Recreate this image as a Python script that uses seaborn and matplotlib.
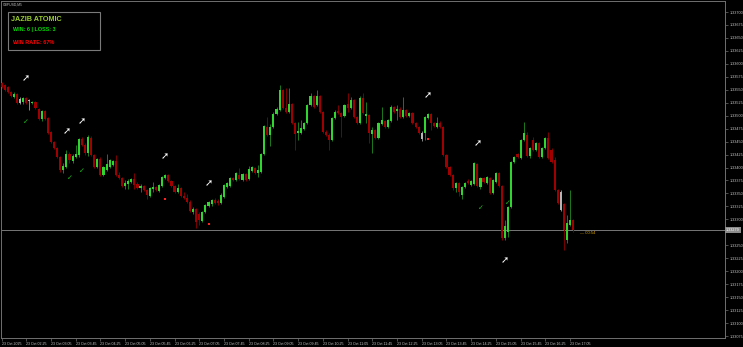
import matplotlib
matplotlib.use("Agg")
import matplotlib.pyplot as plt
from matplotlib.patches import Rectangle
import matplotlib.transforms as mtransforms
import seaborn as sns
import numpy as np
import pandas as pd

SYMBOL_TITLE = "GBPUSD,M5"
PANEL_TITLE = "JAZIB ATOMIC"
PANEL_STATS = "WIN: 6 | LOSS: 3"
PANEL_RATE = "WIN RATE: 67%"
COUNTDOWN = "\u2014 00:54"
CURRENT_PRICE = 1.33279

OPEN = [1.33563, 1.33559, 1.33555, 1.33546, 1.33536, 1.33542, 1.33524, 1.33526, 1.33534, 1.33530,
        1.33524, 1.33526, 1.33513, 1.33494, 1.33509, 1.33495, 1.33468, 1.33449, 1.33438, 1.33420,
        1.33395, 1.33401, 1.33426, 1.33413, 1.33420, 1.33424, 1.33455, 1.33443, 1.33428, 1.33457,
        1.33424, 1.33401, 1.33416, 1.33386, 1.33395, 1.33401, 1.33405, 1.33413, 1.33386, 1.33380,
        1.33364, 1.33368, 1.33372, 1.33378, 1.33368, 1.33360, 1.33364, 1.33357, 1.33345, 1.33359,
        1.33362, 1.33355, 1.33364, 1.33380, 1.33386, 1.33374, 1.33364, 1.33353, 1.33360, 1.33345,
        1.33341, 1.33333, 1.33314, 1.33320, 1.33310, 1.33297, 1.33314, 1.33326, 1.33330, 1.33337,
        1.33335, 1.33332, 1.33343, 1.33362, 1.33364, 1.33380, 1.33376, 1.33386, 1.33376, 1.33387,
        1.33378, 1.33393, 1.33399, 1.33389, 1.33391, 1.33426, 1.33478, 1.33463, 1.33478, 1.33503,
        1.33511, 1.33549, 1.33515, 1.33507, 1.33522, 1.33486, 1.33467, 1.33467, 1.33474, 1.33486,
        1.33521, 1.33538, 1.33521, 1.33538, 1.33507, 1.33468, 1.33463, 1.33453, 1.33495, 1.33509,
        1.33505, 1.33499, 1.33522, 1.33515, 1.33530, 1.33497, 1.33486, 1.33534, 1.33499, 1.33501,
        1.33465, 1.33472, 1.33457, 1.33484, 1.33490, 1.33478, 1.33490, 1.33517, 1.33509, 1.33513,
        1.33497, 1.33511, 1.33499, 1.33505, 1.33486, 1.33478, 1.33467, 1.33467, 1.33495, 1.33503,
        1.33486, 1.33478, 1.33486, 1.33478, 1.33424, 1.33401, 1.33386, 1.33360, 1.33370, 1.33347,
        1.33362, 1.33374, 1.33366, 1.33368, 1.33407, 1.33362, 1.33380, 1.33370, 1.33380, 1.33351,
        1.33372, 1.33389, 1.33364, 1.33264, 1.33276, 1.33324, 1.33411, 1.33426, 1.33418, 1.33453,
        1.33463, 1.33422, 1.33453, 1.33434, 1.33447, 1.33420, 1.33438, 1.33457, 1.33434, 1.33414,
        1.33357, 1.33353, 1.33330, 1.33260, 1.33289, 1.33299]
HIGH = [1.33565, 1.33561, 1.33557, 1.33548, 1.33546, 1.33544, 1.33536, 1.33536, 1.33536, 1.33532,
        1.33528, 1.33528, 1.33515, 1.33511, 1.33511, 1.33497, 1.33470, 1.33451, 1.33440, 1.33422,
        1.33409, 1.33434, 1.33430, 1.33426, 1.33443, 1.33457, 1.33459, 1.33447, 1.33463, 1.33461,
        1.33426, 1.33418, 1.33420, 1.33403, 1.33426, 1.33416, 1.33414, 1.33424, 1.33391, 1.33382,
        1.33376, 1.33378, 1.33380, 1.33389, 1.33372, 1.33368, 1.33366, 1.33359, 1.33362, 1.33372,
        1.33364, 1.33368, 1.33384, 1.33387, 1.33387, 1.33376, 1.33366, 1.33368, 1.33362, 1.33353,
        1.33349, 1.33337, 1.33324, 1.33322, 1.33314, 1.33316, 1.33330, 1.33335, 1.33339, 1.33341,
        1.33339, 1.33351, 1.33368, 1.33372, 1.33382, 1.33382, 1.33391, 1.33399, 1.33389, 1.33389,
        1.33403, 1.33403, 1.33401, 1.33405, 1.33428, 1.33482, 1.33497, 1.33484, 1.33507, 1.33517,
        1.33559, 1.33551, 1.33553, 1.33553, 1.33524, 1.33488, 1.33488, 1.33492, 1.33488, 1.33522,
        1.33544, 1.33540, 1.33549, 1.33540, 1.33509, 1.33472, 1.33467, 1.33497, 1.33511, 1.33521,
        1.33507, 1.33522, 1.33544, 1.33536, 1.33532, 1.33499, 1.33538, 1.33544, 1.33526, 1.33503,
        1.33478, 1.33474, 1.33488, 1.33517, 1.33492, 1.33494, 1.33521, 1.33519, 1.33521, 1.33517,
        1.33536, 1.33513, 1.33507, 1.33507, 1.33488, 1.33480, 1.33470, 1.33499, 1.33505, 1.33505,
        1.33488, 1.33497, 1.33490, 1.33480, 1.33426, 1.33403, 1.33387, 1.33372, 1.33372, 1.33364,
        1.33372, 1.33378, 1.33376, 1.33411, 1.33409, 1.33382, 1.33382, 1.33384, 1.33382, 1.33378,
        1.33391, 1.33391, 1.33366, 1.33299, 1.33326, 1.33413, 1.33422, 1.33428, 1.33455, 1.33488,
        1.33468, 1.33440, 1.33459, 1.33449, 1.33449, 1.33440, 1.33459, 1.33468, 1.33438, 1.33420,
        1.33359, 1.33357, 1.33332, 1.33308, 1.33357, 1.33301]
LOW = [1.33553, 1.33548, 1.33544, 1.33536, 1.33534, 1.33522, 1.33522, 1.33522, 1.33522, 1.33511,
       1.33522, 1.33513, 1.33492, 1.33490, 1.33492, 1.33465, 1.33447, 1.33436, 1.33418, 1.33391,
       1.33389, 1.33399, 1.33409, 1.33409, 1.33418, 1.33420, 1.33441, 1.33424, 1.33422, 1.33422,
       1.33399, 1.33399, 1.33384, 1.33384, 1.33393, 1.33399, 1.33403, 1.33384, 1.33378, 1.33362,
       1.33359, 1.33359, 1.33370, 1.33359, 1.33359, 1.33353, 1.33355, 1.33339, 1.33343, 1.33353,
       1.33355, 1.33353, 1.33362, 1.33378, 1.33372, 1.33362, 1.33351, 1.33351, 1.33343, 1.33339,
       1.33332, 1.33314, 1.33310, 1.33283, 1.33289, 1.33295, 1.33312, 1.33324, 1.33326, 1.33330,
       1.33328, 1.33330, 1.33341, 1.33360, 1.33362, 1.33374, 1.33374, 1.33376, 1.33374, 1.33374,
       1.33376, 1.33391, 1.33387, 1.33382, 1.33389, 1.33424, 1.33461, 1.33441, 1.33476, 1.33501,
       1.33509, 1.33513, 1.33505, 1.33505, 1.33484, 1.33434, 1.33453, 1.33465, 1.33472, 1.33484,
       1.33519, 1.33515, 1.33519, 1.33505, 1.33467, 1.33461, 1.33434, 1.33451, 1.33494, 1.33503,
       1.33459, 1.33497, 1.33507, 1.33513, 1.33495, 1.33484, 1.33484, 1.33503, 1.33486, 1.33447,
       1.33428, 1.33455, 1.33455, 1.33482, 1.33476, 1.33476, 1.33488, 1.33505, 1.33492, 1.33495,
       1.33495, 1.33497, 1.33497, 1.33484, 1.33476, 1.33465, 1.33451, 1.33453, 1.33494, 1.33472,
       1.33478, 1.33476, 1.33476, 1.33422, 1.33399, 1.33384, 1.33357, 1.33353, 1.33345, 1.33339,
       1.33360, 1.33368, 1.33364, 1.33366, 1.33362, 1.33359, 1.33370, 1.33368, 1.33349, 1.33349,
       1.33370, 1.33362, 1.33260, 1.33260, 1.33266, 1.33322, 1.33409, 1.33418, 1.33416, 1.33451,
       1.33420, 1.33418, 1.33432, 1.33432, 1.33418, 1.33418, 1.33436, 1.33416, 1.33409, 1.33355,
       1.33330, 1.33316, 1.33241, 1.33254, 1.33287, 1.33276]
CLOSE = [1.33555, 1.33549, 1.33546, 1.33538, 1.33542, 1.33524, 1.33532, 1.33534, 1.33524, 1.33528,
         1.33526, 1.33515, 1.33494, 1.33509, 1.33494, 1.33467, 1.33449, 1.33438, 1.33420, 1.33395,
         1.33403, 1.33426, 1.33414, 1.33422, 1.33426, 1.33455, 1.33443, 1.33428, 1.33459, 1.33424,
         1.33401, 1.33416, 1.33386, 1.33401, 1.33407, 1.33414, 1.33413, 1.33386, 1.33380, 1.33364,
         1.33370, 1.33374, 1.33378, 1.33366, 1.33360, 1.33364, 1.33357, 1.33347, 1.33360, 1.33362,
         1.33357, 1.33366, 1.33382, 1.33386, 1.33374, 1.33364, 1.33353, 1.33360, 1.33345, 1.33341,
         1.33333, 1.33316, 1.33320, 1.33295, 1.33299, 1.33314, 1.33328, 1.33333, 1.33337, 1.33332,
         1.33332, 1.33347, 1.33366, 1.33370, 1.33380, 1.33376, 1.33389, 1.33378, 1.33387, 1.33376,
         1.33397, 1.33401, 1.33389, 1.33395, 1.33426, 1.33480, 1.33463, 1.33478, 1.33503, 1.33513,
         1.33549, 1.33515, 1.33507, 1.33522, 1.33486, 1.33465, 1.33470, 1.33476, 1.33486, 1.33521,
         1.33538, 1.33517, 1.33538, 1.33507, 1.33468, 1.33463, 1.33453, 1.33495, 1.33507, 1.33505,
         1.33497, 1.33521, 1.33515, 1.33530, 1.33497, 1.33486, 1.33534, 1.33505, 1.33503, 1.33467,
         1.33472, 1.33457, 1.33486, 1.33492, 1.33478, 1.33492, 1.33517, 1.33507, 1.33513, 1.33497,
         1.33511, 1.33499, 1.33505, 1.33486, 1.33478, 1.33467, 1.33455, 1.33497, 1.33503, 1.33486,
         1.33480, 1.33486, 1.33478, 1.33424, 1.33401, 1.33386, 1.33360, 1.33370, 1.33353, 1.33362,
         1.33370, 1.33370, 1.33374, 1.33409, 1.33364, 1.33380, 1.33372, 1.33382, 1.33351, 1.33376,
         1.33389, 1.33364, 1.33264, 1.33287, 1.33324, 1.33411, 1.33420, 1.33420, 1.33453, 1.33467,
         1.33422, 1.33438, 1.33434, 1.33447, 1.33420, 1.33438, 1.33457, 1.33418, 1.33411, 1.33357,
         1.33332, 1.33318, 1.33279, 1.33293, 1.33299, 1.33279]
NEUTRAL_BARS = [6, 9, 136, 181]

ARROW_BARS = [8, 21, 26, 53, 67, 138, 154, 163]
ARROW_PRICES = [1.33573, 1.33470, 1.33490, 1.33422, 1.33370, 1.33540, 1.33447, 1.33222]
CHECK_BARS = [8, 22, 26, 155, 164]
CHECK_PRICES = [1.33488, 1.33380, 1.33393, 1.33322, 1.33332]
CROSS_BARS = [53, 67, 138]
CROSS_PRICES = [1.33339, 1.33291, 1.33455]

PRICE_TICKS = [1.33700, 1.33675, 1.33650, 1.33625, 1.33600, 1.33575, 1.33550, 1.33525,
               1.33500, 1.33475, 1.33450, 1.33425, 1.33400, 1.33375, 1.33350, 1.33325,
               1.33300, 1.33250, 1.33225, 1.33200, 1.33175, 1.33150, 1.33125, 1.33100, 1.33075]
TIME_TICK_BARS = [0, 8, 16, 24, 32, 40, 48, 56, 64, 72, 80, 88, 96, 104, 112, 120,
                  128, 136, 144, 152, 160, 168, 176, 184]
TIME_LABELS = ["23 Oct 2025", "23 Oct 02:25", "23 Oct 03:05", "23 Oct 03:45", "23 Oct 04:25",
               "23 Oct 05:05", "23 Oct 05:45", "23 Oct 06:25", "23 Oct 07:05", "23 Oct 07:45",
               "23 Oct 08:25", "23 Oct 09:05", "23 Oct 09:45", "23 Oct 10:25", "23 Oct 11:05",
               "23 Oct 11:45", "23 Oct 12:25", "23 Oct 13:05", "23 Oct 13:45", "23 Oct 14:25",
               "23 Oct 15:05", "23 Oct 15:45", "23 Oct 16:25", "23 Oct 17:05"]

# ---------------------------------------------------------------------------
sns.set_theme(style="dark", rc={"axes.facecolor": "black", "figure.facecolor": "black"})
plt.rcParams['font.family'] = ['Liberation Sans', 'DejaVu Sans']

df = pd.DataFrame({"open": OPEN, "high": HIGH, "low": LOW, "close": CLOSE})
df["bar"] = np.arange(len(df))
up = df["close"] >= df["open"]
body_col = np.where(up, "#2fd62f", "#a00000").astype(object)
wick_col = np.where(up, "#1c7a1c", "#7a0000").astype(object)
for i in NEUTRAL_BARS:
    body_col[i] = "#b4b4b4"
    wick_col[i] = "#8a8a8a"

W, H = 743, 347
fig = plt.figure(figsize=(W / 100, H / 100), dpi=100)
fig.patch.set_facecolor("black")
left_px, right_px, top_px, bot_px = 1, 725, 1, 337.5
ax = fig.add_axes([left_px / W, 1 - bot_px / H, (right_px - left_px) / W, (bot_px - top_px) / H])
ax.set_facecolor("black")
ax.grid(False)

pitch = 3.09
ax.set_xlim((left_px - 1.5) / pitch, (right_px - 1.5) / pitch)
ppp = 0.00025 / 12.96
ax.set_ylim(1.33700 - (bot_px - 12) * ppp, 1.33700 + (12 - top_px) * ppp)

ax.axhline(CURRENT_PRICE, color="#8a8a8a", lw=0.6, zorder=1)

ax.vlines(df["bar"], df["low"], df["high"], colors=list(wick_col), linewidth=0.7, zorder=2)
bottom = np.minimum(df["open"], df["close"])
height = np.maximum((df["close"] - df["open"]).abs(), 0.000022)
ax.bar(df["bar"], height, bottom=bottom, width=0.68, color=list(body_col), linewidth=0, zorder=3)

sns.scatterplot(x=CROSS_BARS, y=CROSS_PRICES, marker="s", s=3, color="#ff2020",
                linewidth=0, ax=ax, zorder=4, legend=False)
for b, p in zip(ARROW_BARS, ARROW_PRICES):
    ax.text(b, p, "\u279a", color="white", fontsize=7, ha="center", va="center",
            family="DejaVu Sans", fontweight="bold", zorder=5)
for b, p in zip(CHECK_BARS, CHECK_PRICES):
    ax.text(b, p, "\u2713", color="#1fbf1f", fontsize=5, ha="center", va="center",
            family="DejaVu Sans", fontweight="bold", zorder=5)

ax.text(len(df) + 1.3, CURRENT_PRICE - 0.00005, COUNTDOWN, color="#d9a300", fontsize=3,
        ha="left", va="center", zorder=5)

trans = mtransforms.blended_transform_factory(ax.transAxes, ax.transData)
ax.text(1.0015, CURRENT_PRICE, f"{CURRENT_PRICE:.5f}", transform=trans, ha="left", va="center",
        fontsize=2.7, color="white", clip_on=False, zorder=10,
        bbox=dict(boxstyle="square,pad=0.3", fc="#8c8c8c", ec="none"))

for s in ax.spines.values():
    s.set_color("#707070")
    s.set_linewidth(0.7)

ax.yaxis.tick_right()
ax.set_yticks(PRICE_TICKS)
ax.set_yticklabels([f"{v:.5f}" for v in PRICE_TICKS])
ax.set_xticks(TIME_TICK_BARS)
ax.set_xticklabels(TIME_LABELS)
ax.tick_params(axis="y", which="both", right=True, left=False, length=2, width=0.5,
               color="#707070", labelsize=2.7, labelcolor="#c8c8c8", pad=1)
ax.tick_params(axis="x", which="both", bottom=True, length=2, width=0.5,
               color="#707070", labelsize=2.6, labelcolor="#c8c8c8", pad=1)
for lbl in ax.get_xticklabels():
    lbl.set_horizontalalignment("left")
ax.set_xlabel("")
ax.set_ylabel("")

fig.text(3 / W, 1 - 4.5 / H, SYMBOL_TITLE, color="#c0c0c0", fontsize=2.4, ha="left", va="center")

fig.patches.append(Rectangle((8 / W, 1 - 50 / H), 92 / W, 38 / H, transform=fig.transFigure,
                             facecolor="black", edgecolor="#7a7a7a", linewidth=0.8, zorder=5))
fig.text(11 / W, 1 - 19.5 / H, PANEL_TITLE, color="#9acd32", fontsize=5.2, fontweight="bold",
         ha="left", va="center", zorder=6)
fig.text(13 / W, 1 - 29.5 / H, PANEL_STATS, color="#00dd00", fontsize=3.9, fontweight="bold",
         ha="left", va="center", zorder=6)
fig.text(13 / W, 1 - 42 / H, PANEL_RATE, color="#ff0000", fontsize=4.0, fontweight="bold",
         ha="left", va="center", zorder=6)

fig.savefig("out.png", dpi=100, facecolor="black")
